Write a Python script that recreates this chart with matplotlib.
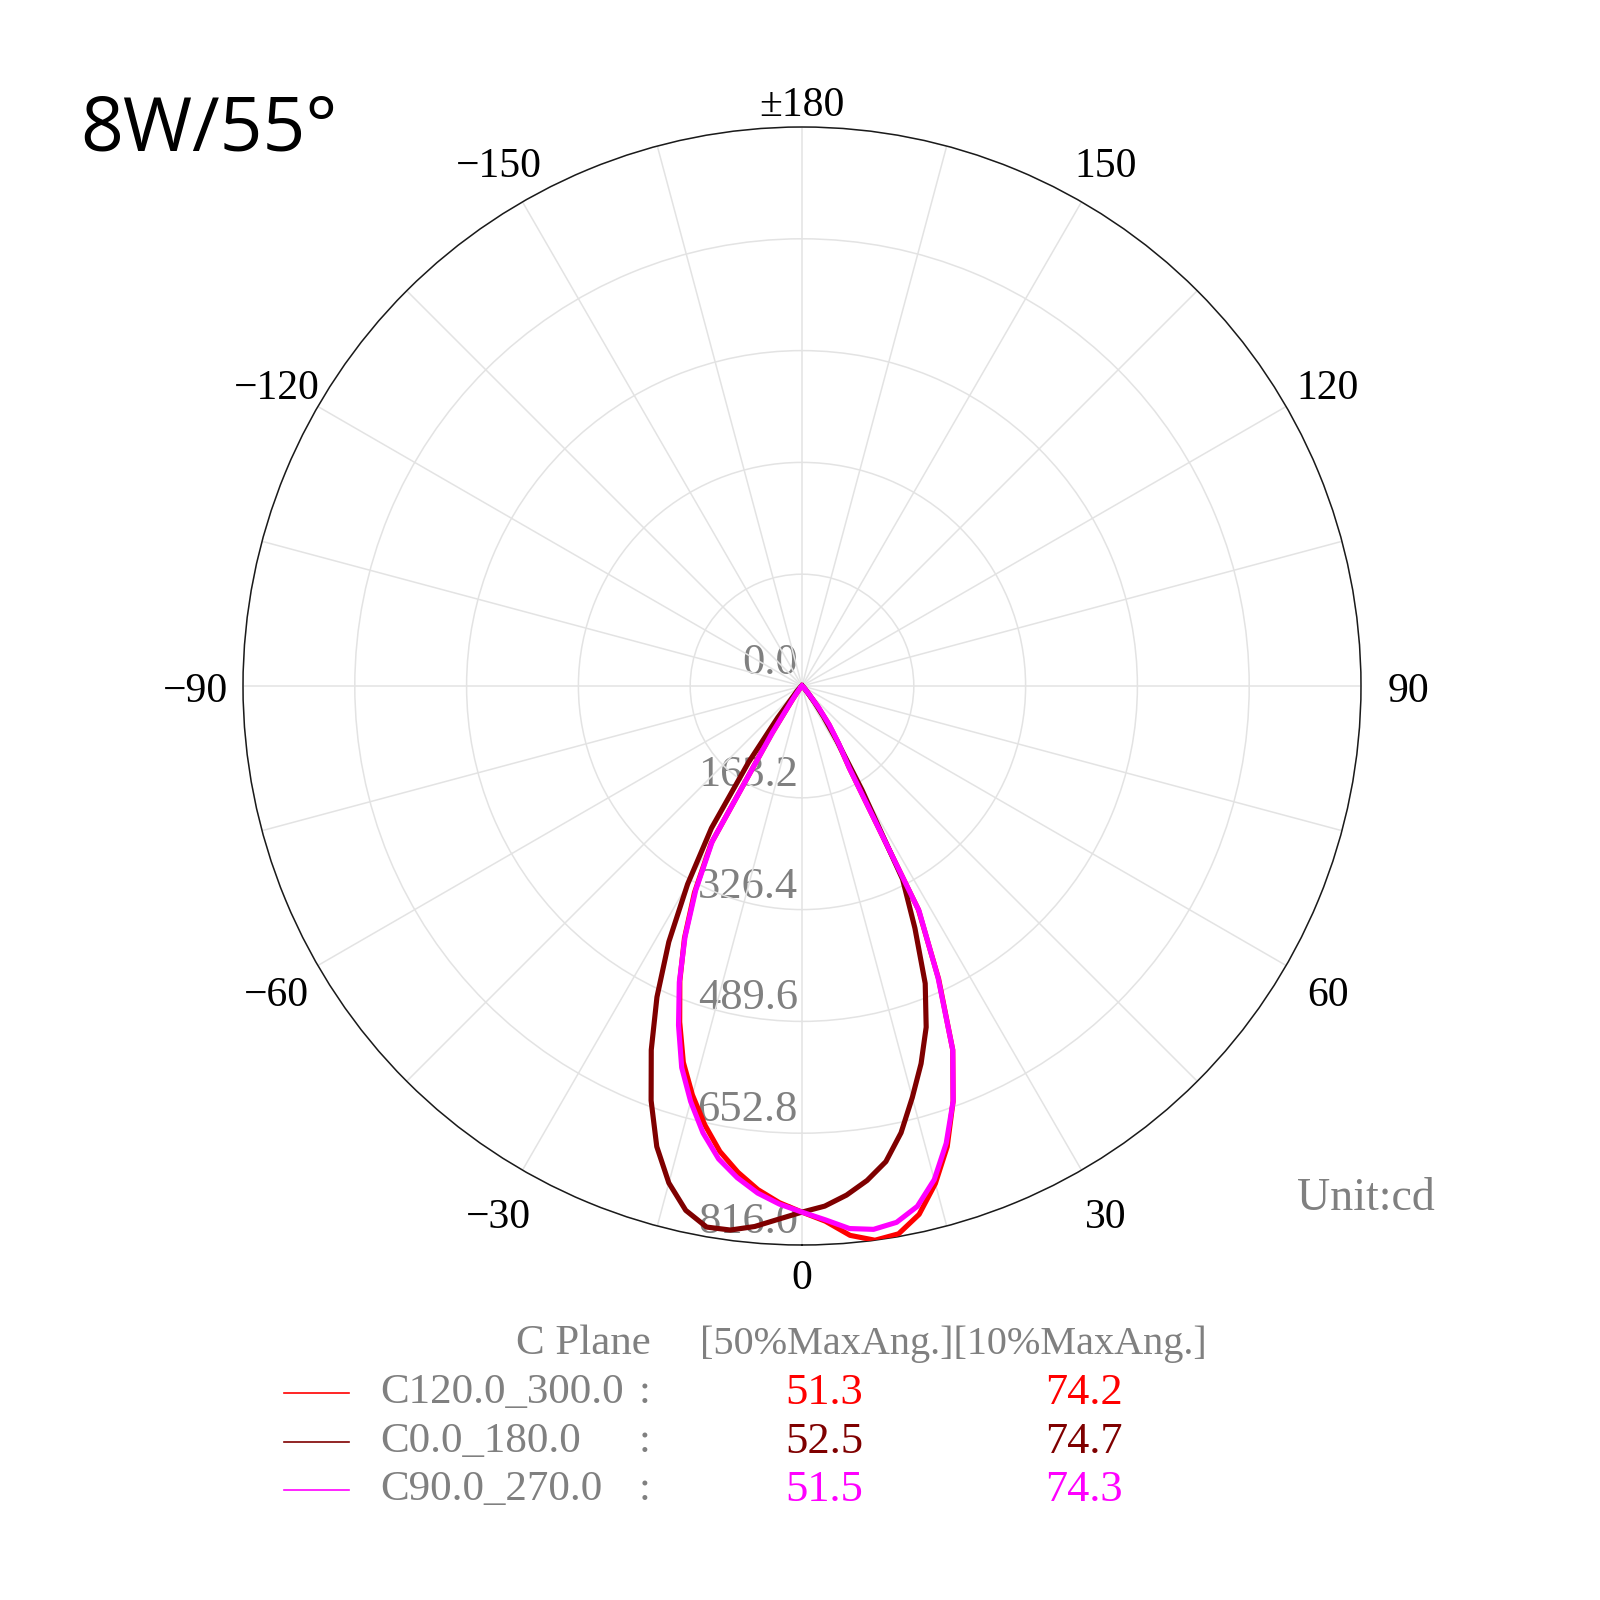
import numpy as np
import matplotlib
matplotlib.use("Agg")
import matplotlib.pyplot as plt
from matplotlib.lines import Line2D

# gamma angles (deg) and intensities (cd)
gamma = [0, 2.5, 5, 7.5, 10, 12.5, 15, 17.5, 20, 22.5, 25, 27.5, 30,
         32.5, 35, 37.5, 40, 45, 50, 60, 70, 80, 90]
# C120 / C300 (red)
c120 = [768, 782, 805, 816, 812, 790, 752, 705, 645, 575, 472, 368, 138,
        98, 68, 38, 16, 6, 3, 1, 0, 0, 0]
c300 = [768, 755, 738, 716, 690, 656, 618, 576, 522, 466, 406, 340, 265,
        82, 24, 10, 5, 2, 1, 0, 0, 0, 0]
# C0 / C180 (maroon)
c0 = [768, 760, 746, 728, 705, 668, 622, 578, 530, 470, 390, 318, 175,
      95, 55, 30, 14, 6, 3, 1, 0, 0, 0]
c180 = [768, 779, 792, 801, 802, 784, 751, 705, 644, 575, 501, 421, 334,
        246, 136, 58, 22, 10, 5, 2, 1, 0, 0]
# C90 / C270 (magenta)
c90 = [768, 780, 795, 800, 795, 778, 746, 700, 645, 575, 470, 370, 138,
       100, 70, 40, 18, 6, 3, 1, 0, 0, 0]
c270 = [768, 757, 743, 724, 701, 668, 628, 584, 527, 468, 404, 336, 262,
        80, 25, 10, 5, 2, 1, 0, 0, 0, 0]

rings = [0.0, 163.2, 326.4, 489.6, 652.8, 816.0]
tick_deg = list(range(0, 360, 15))
tick_names = {0: "0", 30: "30", 60: "60", 90: "90", 120: "120", 150: "150",
              180: "\u00b1180", 210: "\u2212150", 240: "\u2212120",
              270: "\u221290", 300: "\u221260", 330: "\u221230"}

plane_names = ["C120.0_300.0", "C0.0_180.0", "C90.0_270.0"]
half50 = ["51.3", "52.5", "51.5"]
half10 = ["74.2", "74.7", "74.3"]
colors = ["#ff0000", "#7f0000", "#ff00ff"]

serif = ["Liberation Serif", "DejaVu Serif"]
W = 1600.0

fig = plt.figure(figsize=(16, 16), dpi=100)
fig.patch.set_facecolor("white")

cx, cy, R = 802, 686, 559
ax = fig.add_axes([(cx - R) / W, 1 - (cy + R) / W, 2 * R / W, 2 * R / W],
                  projection="polar")
ax.set_theta_zero_location("S")
ax.set_theta_direction(1)
ax.set_ylim(0, 816)
ax.set_yticks(rings[1:])
ax.set_yticklabels([])
ax.set_xticks(np.deg2rad(tick_deg))
ax.set_xticklabels([])
ax.grid(color="#e3e3e3", linewidth=1.1)
ax.spines["polar"].set_color("#1a1a1a")
ax.spines["polar"].set_linewidth(1.1)

# angle labels outside the rim
for d, name in tick_names.items():
    r_lab = 856 if d in (0, 180) else 886
    ax.annotate(name, xy=(np.deg2rad(d), r_lab), xytext=(0, -6),
                textcoords="offset pixels", ha="center", va="center",
                fontsize=30, fontfamily=serif, color="black",
                annotation_clip=False)

g = np.array(gamma, dtype=float)
curves = [(c120, c300), (c0, c180), (c90, c270)]
for (right, left), col in zip(curves, colors):
    th = np.deg2rad(np.concatenate([-g[::-1], g[1:]]))
    r = np.concatenate([np.array(left)[::-1], np.array(right)[1:]])
    ax.plot(th, r, color=col, linewidth=3.7, zorder=3,
            solid_joinstyle="round")

for v in rings:
    ax.annotate(f"{v:.1f}", xy=(0, v), xytext=(-4, 23), textcoords="offset pixels",
                ha="right", va="center", color="#808080", fontsize=32,
                fontfamily=serif, zorder=1)

def fx(x):
    return x / W

def fy(y):
    return 1 - y / W

fig.text(fx(80), fy(131), "8W/55\u00b0", fontsize=54, fontfamily="Open Sans",
         ha="left", va="center", color="black")
fig.text(fx(1366), fy(1199), "Unit:cd", fontsize=33, fontfamily=serif,
         ha="center", va="center", color="#808080")

fig.text(fx(651), fy(1344), "C Plane", fontsize=31, fontfamily=serif,
         ha="right", va="center", color="#808080")
fig.text(fx(700), fy(1344), "[50%MaxAng.][10%MaxAng.]", fontsize=29,
         fontfamily=serif, ha="left", va="center", color="#808080")

row_y = [1393, 1442, 1490]
for name, a50, a10, col, y in zip(plane_names, half50, half10, colors, row_y):
    fig.add_artist(Line2D([fx(284), fx(349)], [fy(y), fy(y)], color=col,
                          linewidth=1.2, transform=fig.transFigure))
    fig.text(fx(380), fy(y), name, fontsize=31, fontfamily=serif,
             ha="left", va="center", color="#808080")
    fig.text(fx(651), fy(y), ":", fontsize=31, fontfamily=serif,
             ha="right", va="center", color="#808080")
    fig.text(fx(824), fy(y), a50, fontsize=32, fontfamily=serif,
             ha="center", va="center", color=col)
    fig.text(fx(1084), fy(y), a10, fontsize=32, fontfamily=serif,
             ha="center", va="center", color=col)

fig.savefig("out.png", dpi=100, facecolor="white")
